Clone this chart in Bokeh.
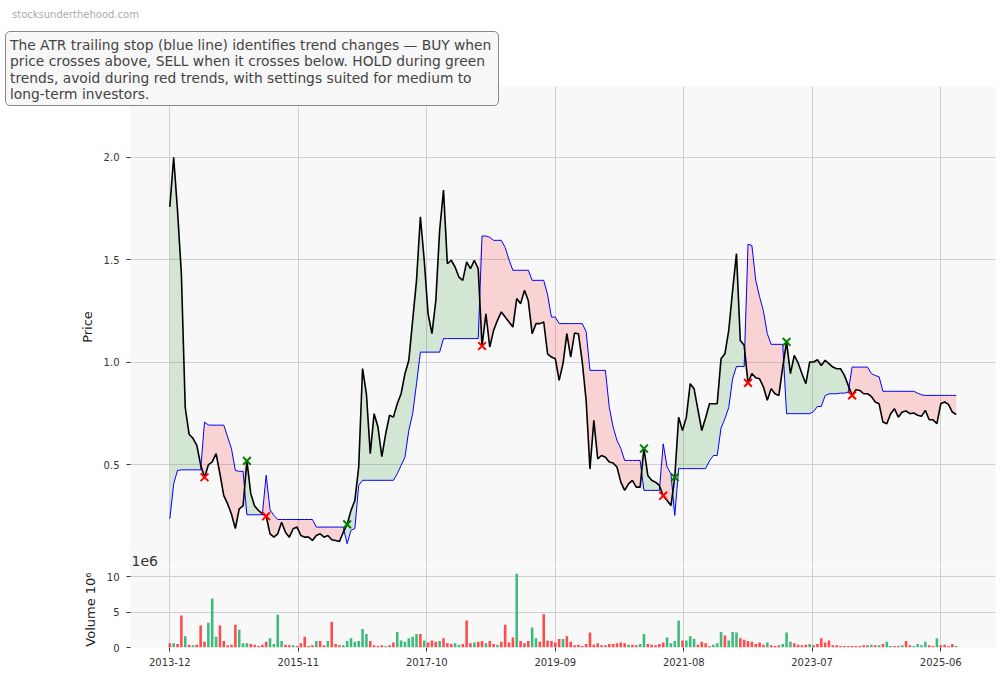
import numpy as np
import pandas as pd
from bokeh.plotting import figure
from bokeh.layouts import column
from bokeh.models import (Range1d, FixedTicker, DatetimeTickFormatter,
                          NumeralTickFormatter, Label, Div, InlineStyleSheet)
from bokeh.embed import file_html
from bokeh.resources import INLINE

# ---------------- data ----------------
start_date = "2013-12-01"
step_days = 21

price = [
    1.758, 2.00, 1.74, 1.43, 0.78, 0.65, 0.63, 0.595, 0.50, 0.44,
    0.50, 0.515, 0.555, 0.457, 0.35, 0.31, 0.26, 0.19, 0.286, 0.30,
    0.52, 0.36, 0.30, 0.278, 0.262, 0.25, 0.164, 0.148, 0.164, 0.221,
    0.172, 0.148, 0.189, 0.197, 0.156, 0.148, 0.148, 0.132, 0.156, 0.164,
    0.148, 0.156, 0.135, 0.132, 0.127, 0.172, 0.21, 0.278, 0.327, 0.49,
    0.97, 0.847, 0.555, 0.75, 0.685, 0.54, 0.652, 0.742, 0.733, 0.798,
    0.847, 0.945, 1.01, 1.205, 1.40, 1.71, 1.498, 1.237, 1.14, 1.30,
    1.644, 1.84, 1.481, 1.498, 1.465, 1.416, 1.40, 1.49, 1.457, 1.498,
    1.457, 1.08, 1.237, 1.075, 1.156, 1.205, 1.246, 1.221, 1.197, 1.172,
    1.311, 1.286, 1.351, 1.30, 1.14, 1.189, 1.189, 1.197, 1.042, 1.026,
    1.018, 0.912, 0.994, 1.14, 1.026, 1.143, 1.14, 1.002, 0.815, 0.48,
    0.717, 0.53, 0.546, 0.538, 0.514, 0.509, 0.49, 0.416, 0.376, 0.408,
    0.425, 0.392, 0.392, 0.58, 0.449, 0.425, 0.416, 0.40, 0.35, 0.327,
    0.302, 0.44, 0.733, 0.668, 0.733, 0.896, 0.872, 0.77, 0.668, 0.73,
    0.798, 0.798, 0.798, 1.018, 1.042, 1.156, 1.351, 1.53, 1.107, 1.083,
    0.90, 0.945, 0.925, 0.92, 0.88, 0.815, 0.872, 0.847, 0.839, 0.977,
    1.10, 0.945, 1.034, 0.997, 0.945, 0.896, 1.002, 1.002, 1.013, 0.985,
    1.01, 0.994, 0.977, 0.969, 0.969, 0.937, 0.888, 0.839, 0.867, 0.863,
    0.847, 0.847, 0.834, 0.807, 0.798, 0.709, 0.701, 0.75, 0.774, 0.733,
    0.758, 0.763, 0.75, 0.753, 0.742, 0.737, 0.766, 0.72, 0.72, 0.701,
    0.798, 0.807, 0.795, 0.758, 0.746,
]

atr_stop = [
    0.237, 0.408, 0.473, 0.476, 0.476, 0.476, 0.476, 0.476, 0.476, 0.709,
    0.695, 0.694, 0.694, 0.694, 0.694, 0.636, 0.579, 0.473, 0.469, 0.469,
    0.257, 0.257, 0.257, 0.257, 0.257, 0.45, 0.281, 0.254, 0.234, 0.234,
    0.234, 0.234, 0.234, 0.234, 0.234, 0.234, 0.234, 0.234, 0.197, 0.197,
    0.197, 0.197, 0.197, 0.197, 0.197, 0.197, 0.116, 0.181, 0.19, 0.40,
    0.425, 0.425, 0.425, 0.425, 0.425, 0.425, 0.425, 0.425, 0.425, 0.457,
    0.498, 0.538, 0.668, 0.75, 0.896, 1.05, 1.05, 1.05, 1.05, 1.05,
    1.05, 1.116, 1.116, 1.116, 1.116, 1.116, 1.116, 1.116, 1.116, 1.116,
    1.116, 1.616, 1.616, 1.61, 1.595, 1.595, 1.595, 1.56, 1.50, 1.449,
    1.449, 1.449, 1.449, 1.449, 1.40, 1.40, 1.40, 1.40, 1.33, 1.221,
    1.221, 1.189, 1.189, 1.189, 1.189, 1.189, 1.189, 1.189, 1.15, 0.961,
    0.961, 0.961, 0.961, 0.961, 0.782, 0.685, 0.62, 0.58, 0.522, 0.522,
    0.522, 0.522, 0.522, 0.376, 0.376, 0.376, 0.376, 0.376, 0.603, 0.49,
    0.457, 0.254, 0.482, 0.482, 0.482, 0.482, 0.482, 0.482, 0.482, 0.482,
    0.52, 0.546, 0.546, 0.68, 0.725, 0.78, 0.92, 0.98, 0.98, 0.98,
    1.576, 1.57, 1.40, 1.32, 1.25, 1.14, 1.088, 1.088, 1.088, 1.088,
    0.75, 0.75, 0.75, 0.75, 0.75, 0.75, 0.75, 0.76, 0.785, 0.785,
    0.838, 0.847, 0.847, 0.847, 0.85, 0.85, 0.855, 0.977, 0.977, 0.977,
    0.977, 0.977, 0.945, 0.936, 0.93, 0.859, 0.859, 0.859, 0.859, 0.859,
    0.859, 0.859, 0.859, 0.859, 0.85, 0.842, 0.839, 0.839, 0.839, 0.839,
    0.839, 0.839, 0.839, 0.839, 0.839,
]

volume_m = [
    0.6, 0.6, 0.5, 4.5, 1.6, 0.4, 0.3, 0.4, 3.1, 0.8,
    3.5, 6.9, 1.5, 3.1, 0.9, 0.3, 0.4, 3.2, 2.5, 0.6,
    0.6, 0.5, 0.4, 0.2, 0.4, 0.8, 1.3, 0.5, 4.6, 0.9,
    0.4, 0.3, 0.3, 0.2, 0.6, 1.5, 0.2, 0.3, 0.9, 0.9,
    0.3, 0.9, 3.6, 0.5, 0.3, 0.3, 0.9, 1.3, 0.8, 0.9,
    2.6, 1.9, 0.9, 0.3, 0.2, 0.3, 0.2, 0.3, 0.7, 2.2,
    1.0, 0.8, 1.3, 1.5, 1.9, 1.9, 1.0, 0.7, 1.0, 0.8,
    0.9, 1.3, 0.6, 0.5, 0.6, 0.4, 0.5, 3.8, 0.6, 0.7,
    0.8, 0.9, 0.6, 0.9, 0.5, 0.4, 0.8, 3.2, 0.7, 1.4,
    10.4, 0.9, 0.6, 0.9, 2.8, 1.3, 0.8, 4.7, 1.0, 0.9,
    0.7, 1.2, 1.2, 1.6, 0.8, 0.3, 0.4, 0.2, 0.5, 2.1,
    0.4, 0.6, 0.3, 0.3, 0.5, 0.5, 0.6, 0.7, 0.6, 0.4,
    0.4, 0.3, 0.5, 1.9, 0.5, 0.4, 0.3, 0.5, 0.7, 1.4,
    0.6, 0.9, 3.8, 1.0, 1.0, 1.6, 1.2, 0.4, 0.8, 0.6,
    0.2, 0.4, 0.6, 2.2, 1.7, 1.0, 2.2, 2.1, 1.3, 1.1,
    0.9, 0.8, 0.5, 0.7, 0.4, 0.7, 0.3, 0.2, 0.3, 0.5,
    2.1, 0.8, 0.6, 0.4, 0.3, 0.4, 0.5, 0.3, 0.5, 1.3,
    0.7, 1.0, 0.3, 0.3, 0.2, 0.2, 0.2, 0.2, 0.2, 0.2,
    0.3, 0.3, 0.4, 0.3, 0.3, 0.5, 0.8, 0.2, 0.2, 0.2,
    0.3, 0.9, 0.3, 0.2, 0.5, 0.3, 0.8, 0.3, 0.2, 1.3,
    0.3, 0.4, 0.2, 0.5, 0.2,
]

# 1 = up week (green bar), 0 = down week (red bar)
volume_up = [
    0, 1, 0, 0, 1, 0, 1, 0, 0, 0,
    1, 1, 1, 0, 0, 0, 0, 0, 1, 1,
    1, 0, 0, 0, 0, 0, 1, 1, 1, 1,
    0, 0, 1, 0, 0, 0, 0, 0, 1, 0,
    0, 1, 0, 0, 0, 1, 1, 1, 1, 1,
    1, 1, 0, 0, 0, 0, 1, 0, 0, 1,
    1, 1, 1, 1, 1, 0, 1, 0, 0, 0,
    1, 0, 0, 0, 1, 1, 0, 0, 0, 1,
    0, 0, 1, 0, 0, 1, 0, 0, 0, 0,
    1, 0, 0, 0, 1, 1, 0, 0, 0, 0,
    0, 0, 1, 0, 0, 0, 0, 0, 0, 0,
    0, 0, 0, 0, 0, 0, 0, 0, 0, 1,
    0, 0, 1, 1, 0, 0, 0, 0, 0, 1,
    1, 1, 1, 0, 1, 1, 1, 0, 0, 0,
    0, 1, 1, 1, 0, 1, 1, 1, 0, 0,
    0, 0, 0, 0, 0, 1, 0, 0, 0, 1,
    1, 1, 0, 0, 0, 0, 1, 0, 0, 0,
    0, 0, 0, 0, 0, 0, 0, 0, 0, 0,
    0, 0, 1, 0, 1, 0, 1, 1, 0, 0,
    1, 0, 0, 1, 1, 1, 1, 0, 0, 1,
    0, 0, 0, 0, 1,
]

buy_idx = [20, 46, 123, 131, 160]
sell_idx = [9, 25, 81, 128, 150, 177]

tick_labels = ["2013-12", "2015-11", "2017-10", "2019-09",
               "2021-08", "2023-07", "2025-06"]

watermark = "stocksunderthehood.com"
note_lines = [
    "The ATR trailing stop (blue line) identifies trend changes \u2014 BUY when",
    "price crosses above, SELL when it crosses below. HOLD during green",
    "trends, avoid during red trends, with settings suited for medium to",
    "long-term investors.",
]

# ---------------- derived ----------------
n = len(price)
assert len(atr_stop) == n and len(volume_m) == n and len(volume_up) == n
dates = pd.date_range(start_date, periods=n, freq=f"{step_days}D")
price_a = np.array(price)
stop_a = np.array(atr_stop)

trend = np.ones(n)
state = 1
for i in range(n):
    if i in sell_idx:
        state = -1
    if i in buy_idx:
        state = 1
    trend[i] = state
up = trend > 0
g_y2 = np.where(up, stop_a, price_a)
r_y2 = np.where(~up, stop_a, price_a)

MS_DAY = 86400000.0
x0 = dates[0].value / 1e6
x1 = dates[-1].value / 1e6
pad = 0.05 * (x1 - x0)
xr = Range1d(start=x0 - pad, end=x1 + pad)
tick_ms = [pd.Timestamp(t + "-01").value / 1e6 for t in tick_labels]

FONT = "DejaVu Sans"
GRID = "#d0d0d0"
BG = "#f8f8f8"

# ---------------- header (watermark + note box) ----------------
header_html = (
    f'<div style="position:absolute;left:7px;top:4px;font-family:\'DejaVu Sans\';'
    f'font-size:10px;line-height:12px;color:#aaaaaa;white-space:nowrap;">{watermark}</div>'
    f'<div style="position:absolute;left:0px;top:26px;box-sizing:border-box;'
    f'width:494px;height:75px;padding:5px 4px 2px 4px;border:1px solid #888888;'
    f'border-radius:5px;background:#f7f7f7;font-family:\'DejaVu Sans\';'
    f'font-size:13.8px;line-height:16.3px;color:#444444;white-space:nowrap;">'
    + "<br>".join(note_lines) + "</div>"
)
header = Div(text=header_html, width=510, height=110,
             stylesheets=[InlineStyleSheet(css=":host { position: absolute !important; "
                                               "left: 0px !important; top: 0px !important; "
                                               "z-index: 10; }")])

# ---------------- price panel ----------------
p = figure(frame_width=865, frame_height=481, x_range=xr,
           y_range=Range1d(0.0, 2.345), x_axis_type="datetime",
           x_axis_location=None, toolbar_location=None, output_backend="svg",
           min_border_left=130, min_border_right=1, min_border_top=86,
           min_border_bottom=0, background_fill_color=BG,
           border_fill_color="white", outline_line_color=None)
p.xgrid.ticker = FixedTicker(ticks=tick_ms)
p.xgrid.grid_line_color = GRID
p.ygrid.grid_line_color = GRID
p.yaxis.ticker = FixedTicker(ticks=[0.5, 1.0, 1.5, 2.0])
p.yaxis.formatter = NumeralTickFormatter(format="0.0")
p.yaxis.axis_label = "Price"
p.yaxis.axis_label_text_font = FONT
p.yaxis.axis_label_text_font_size = "13px"
p.yaxis.axis_label_text_font_style = "normal"
p.yaxis.axis_label_text_color = "#222222"
p.yaxis.axis_label_standoff = 6
p.yaxis.major_label_text_font = FONT
p.yaxis.major_label_text_font_size = "10px"
p.yaxis.major_label_text_color = "#333333"
p.yaxis.major_label_standoff = 7
p.yaxis.axis_line_color = None
p.yaxis.major_tick_line_color = "#333333"
p.yaxis.major_tick_out = 4
p.yaxis.major_tick_in = 0
p.yaxis.minor_tick_line_color = None

p.varea(x=dates, y1=price_a, y2=g_y2, fill_color="green", fill_alpha=0.15)
p.varea(x=dates, y1=price_a, y2=r_y2, fill_color="red", fill_alpha=0.15)
p.line(x=dates, y=stop_a, line_color="#0000ff", line_width=1)
p.line(x=dates, y=price_a, line_color="black", line_width=1.6)
p.scatter(x=dates[buy_idx], y=price_a[buy_idx], marker="x", size=11,
          line_color="green", line_width=2)
p.scatter(x=dates[sell_idx], y=price_a[sell_idx], marker="x", size=11,
          line_color="red", line_width=2)

p.add_layout(Label(x=1, y=2, x_units="screen", y_units="screen",
                   text="1e6", text_font=FONT, text_font_size="14px",
                   text_color="#333333", text_baseline="bottom",
                   text_align="left"))

# ---------------- volume panel ----------------
v = figure(frame_width=865, frame_height=80, x_range=xr,
           y_range=Range1d(0.0, 11.27), x_axis_type="datetime",
           toolbar_location=None, output_backend="svg",
           min_border_left=130, min_border_right=1, min_border_top=0,
           min_border_bottom=4, background_fill_color=BG,
           border_fill_color="white", outline_line_color=None)
vol_colors = ["#3dbb7e" if u else "#ff4b4b" for u in volume_up]
v.vbar(x=dates, top=volume_m, bottom=0, width=14 * MS_DAY,
       fill_color=vol_colors, line_color=None)
v.xaxis.ticker = FixedTicker(ticks=tick_ms)
fmt = "%Y-%m"
v.xaxis.formatter = DatetimeTickFormatter(
    years=fmt, months=fmt, days=fmt, hours=fmt, minutes=fmt,
    seconds=fmt, milliseconds=fmt, microseconds=fmt, hourmin=fmt,
    minsec=fmt)
v.xgrid.ticker = FixedTicker(ticks=tick_ms)
v.xgrid.grid_line_color = GRID
v.ygrid.grid_line_color = GRID
v.yaxis.ticker = FixedTicker(ticks=[0, 5, 10])
v.yaxis.formatter = NumeralTickFormatter(format="0")
v.yaxis.axis_label = "Volume  10\u2076"
v.yaxis.axis_label_standoff = 6
for ax in (v.xaxis, v.yaxis):
    ax.axis_label_text_font = FONT
    ax.axis_label_text_font_size = "13px"
    ax.axis_label_text_font_style = "normal"
    ax.axis_label_text_color = "#222222"
    ax.major_label_text_font = FONT
    ax.major_label_text_font_size = "10px"
    ax.major_label_text_color = "#333333"
    ax.major_label_standoff = 7
    ax.axis_line_color = None
    ax.major_tick_line_color = "#333333"
    ax.major_tick_out = 4
    ax.major_tick_in = 0
    ax.minor_tick_line_color = None
v.xaxis.major_label_standoff = 6

layout = column(header, p, v, spacing=0)
open("out.html", "w").write(file_html(layout, INLINE))
